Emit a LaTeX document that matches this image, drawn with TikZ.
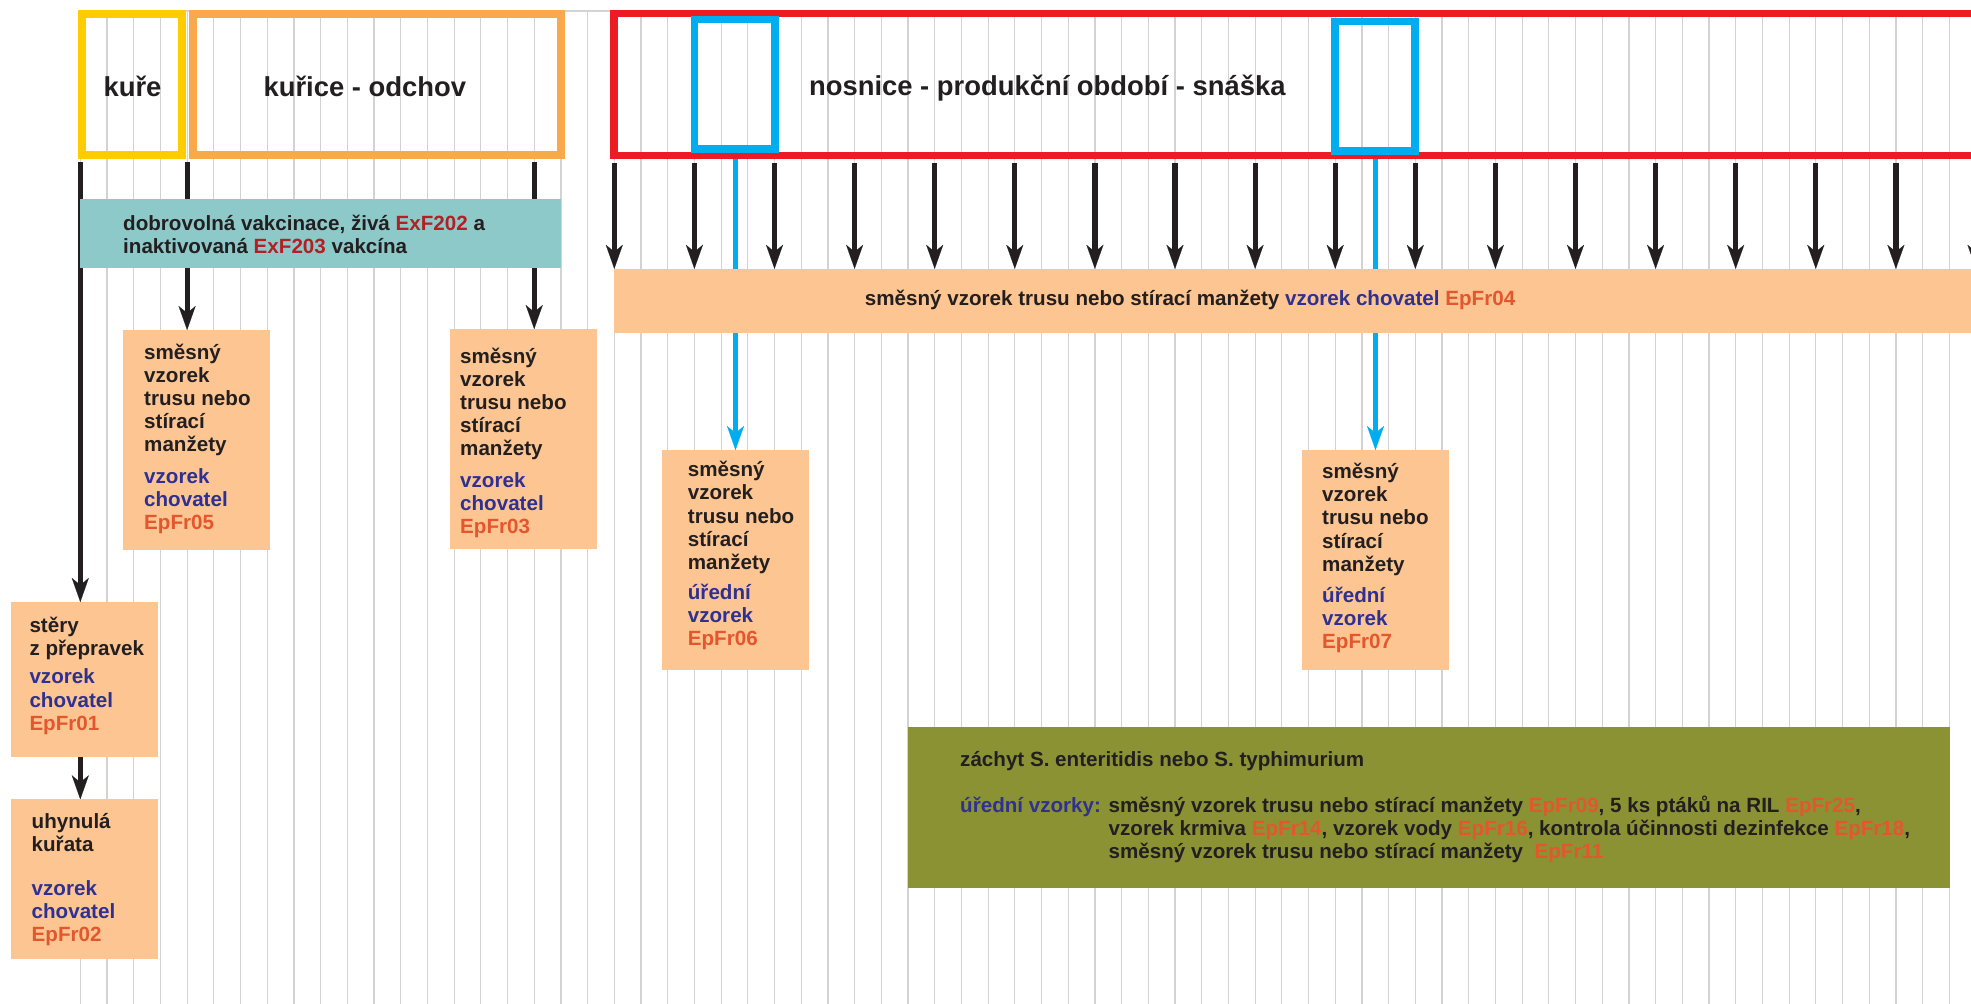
\documentclass[tikz,border=0pt]{standalone}
\usepackage{fontspec}
\setmainfont{Liberation Sans}
\usetikzlibrary{arrows.meta}
\definecolor{ink}{HTML}{231F20}
\definecolor{sedacar}{HTML}{D3D3D3}
\definecolor{zluta}{HTML}{FFCC00}
\definecolor{oranz}{HTML}{F9A94B}
\definecolor{cervena}{HTML}{ED1C24}
\definecolor{azur}{HTML}{00AEEF}
\definecolor{losos}{HTML}{FCC591}
\definecolor{tyrkys}{HTML}{8CC9C8}
\definecolor{oliva}{HTML}{8A9234}
\definecolor{modra}{HTML}{2E3192}
\definecolor{kodcol}{HTML}{E4572E}
\definecolor{exfcol}{HTML}{B22025}
\newcommand\vz[1]{\textcolor{modra}{#1}}
\newcommand\kod[1]{\textcolor{kodcol}{#1}}
\newcommand\exf[1]{\textcolor{exfcol}{#1}}
\newcommand\malepismo{\fontsize{20.6}{23.2}\selectfont\bfseries}
\newcommand\velkepismo{\fontsize{27.4}{30}\selectfont\bfseries}
\pgfdeclarelayer{mrizkavrstva}
\pgfdeclarelayer{sipkyvrstva}
\pgfsetlayers{mrizkavrstva,sipkyvrstva,main}
\tikzset{
	mrizka/.style={draw=sedacar, line width=1.2pt},
	obdobi/.style={draw, line width=7.5pt, outer sep=0pt, inner sep=0pt, anchor=north west},
	vzorek/.style={fill=losos, outer sep=0pt, inner sep=0pt, anchor=north west},
	popis/.style={text=ink, font=\malepismo, align=left, inner sep=0pt, anchor=north west},
	nadpis/.style={text=ink, font=\velkepismo, inner sep=0pt, anchor=base},
	sipka/.style={draw=ink, line width=5.2pt, -{Stealth[length=24pt, width=17pt, inset=7pt, line width=0.1pt]}},
	modrasipka/.style={draw=azur, line width=4.8pt, -{Stealth[length=24pt, width=17pt, inset=7pt, line width=0.1pt]}},
}
\begin{document}
\begin{tikzpicture}[x=1pt, y=-1pt]
	\useasboundingbox (0,0) rectangle (1971,1004);
	\begin{pgfonlayer}{mrizkavrstva}
		\fill[white] (0,0) rectangle (1971,1004);
		\draw[mrizka] (80.3,11) -- (1971,11);
		\foreach \k in {0,...,70}
			\draw[mrizka] ({80.3+26.7*\k},11) -- ({80.3+26.7*\k},1004);
	\end{pgfonlayer}
	% obdobi
	\node[obdobi, draw=zluta, minimum width=100pt, minimum height=141pt] (kure) at (82,14) {};
	\node[obdobi, draw=oranz, minimum width=368pt, minimum height=141pt] (kurice) at (193,14) {};
	\node[obdobi, draw=cervena, minimum width=1386pt, minimum height=141.8pt] (nosnice) at (614,13.7) {};
	\node[obdobi, draw=azur, line width=7.6pt, minimum width=80.4pt, minimum height=129.5pt] (okno1) at (694.4,19.5) {};
	\node[obdobi, draw=azur, line width=7.6pt, minimum width=79.7pt, minimum height=129.5pt] (okno2) at (1335,21.3) {};
	\node[nadpis] (tkure) at (132.5,96) {kuře};
	\node[nadpis] (tkurice) at (364.8,96) {kuřice - odchov};
	\node[nadpis] (tnosnice) at (1047.3,95.5) {nosnice - produkční období - snáška};
	% vakcinace a pas
	\node[vzorek, fill=tyrkys, minimum width=480.7pt, minimum height=69.3pt] (vakc) at (80,199) {};
	\node[popis] (tvakc) at (123,213.8) {\strut dobrovolná vakcinace, živá \exf{ExF202} a\\inaktivovaná \exf{ExF203} vakcína};
	\node[vzorek, minimum width=1400pt, minimum height=64.3pt] (pas) at (614.3,268.8) {};
	\node[popis, anchor=base west] (tpas) at (864.7,305) {směsný vzorek trusu nebo stírací manžety \vz{vzorek chovatel} \kod{EpFr04}};
	% vzorky
	\node[vzorek, minimum width=147pt, minimum height=219.7pt] (c05) at (123,330) {};
	\node[popis] (t05) at ([shift={(21,12.6)}]c05.north west) {\strut směsný\\vzorek\\trusu nebo\\stírací\\manžety\\[8.4pt]\vz{vzorek}\\\vz{chovatel}\\\kod{EpFr05}};
	\node[vzorek, minimum width=146.7pt, minimum height=219.7pt] (c03) at (450,329) {};
	\node[popis] (t03) at ([shift={(10,17.6)}]c03.north west) {\strut směsný\\vzorek\\trusu nebo\\stírací\\manžety\\[8.5pt]\vz{vzorek}\\\vz{chovatel}\\\kod{EpFr03}};
	\node[vzorek, minimum width=147pt, minimum height=220pt] (c06) at (662,450) {};
	\node[popis] (t06) at ([shift={(25.7,10.3)}]c06.north west) {\strut směsný\\vzorek\\trusu nebo\\stírací\\manžety\\[6.8pt]\vz{úřední}\\\vz{vzorek}\\\kod{EpFr06}};
	\node[vzorek, minimum width=147pt, minimum height=220pt] (c07) at (1302,450) {};
	\node[popis] (t07) at ([shift={(20,12)}]c07.north west) {\strut směsný\\vzorek\\trusu nebo\\stírací\\manžety\\[7.8pt]\vz{úřední}\\\vz{vzorek}\\\kod{EpFr07}};
	\node[vzorek, minimum width=147pt, minimum height=154.7pt] (stery) at (11,602) {};
	\node[popis] (tstery) at ([shift={(18.3,14)}]stery.north west) {\strut stěry\\z přepravek\\[5.1pt]\vz{vzorek}\\\vz{chovatel}\\\kod{EpFr01}};
	\node[vzorek, minimum width=147pt, minimum height=159.4pt] (uhyn) at (11,799.3) {};
	\node[popis] (tuhyn) at ([shift={(20.5,12.3)}]uhyn.north west) {\strut uhynulá\\kuřata\\[21pt]\vz{vzorek}\\\vz{chovatel}\\\kod{EpFr02}};
	% zachyt
	\node[vzorek, fill=oliva, minimum width=1042.5pt, minimum height=161pt] (zachyt) at (907.8,726.7) {};
	\node[popis, anchor=base west] (tzachyt) at (960,766) {záchyt S. enteritidis nebo S. typhimurium};
	\node[popis, anchor=base west] (turad) at (960,812) {\vz{úřední vzorky:}};
	\node[popis] (tseznam) at (1108.5,795.8) {\strut směsný vzorek trusu nebo stírací manžety \kod{EpFr09}, 5 ks ptáků na RIL \kod{EpFr25},\\vzorek krmiva \kod{EpFr14}, vzorek vody \kod{EpFr16}, kontrola účinnosti dezinfekce \kod{EpFr18},\\směsný vzorek trusu nebo stírací manžety\ \ \kod{EpFr11}};
	% sipky
	\begin{pgfonlayer}{sipkyvrstva}
		\coordinate (k0) at (80.3,162);
		\coordinate (k4) at (187.1,162);
		\coordinate (k17) at (534.2,162);
		\draw[sipka] (k0) -- (k0 |- stery.north);
		\draw[sipka] (k0 |- stery.south) -- (k0 |- uhyn.north);
		\draw[sipka] (k4) -- (k4 |- c05.north);
		\draw[sipka] (k17) -- (k17 |- c03.north);
		\foreach \k in {20,23,...,71}{
			\coordinate (s\k) at ({80.3+26.7*\k},163);
			\draw[sipka] (s\k) -- (s\k |- pas.north);
		}
		\draw[modrasipka] (okno1.south -| c06.north) -- (c06.north);
		\draw[modrasipka] (okno2.south -| c07.north) -- (c07.north);
	\end{pgfonlayer}
\end{tikzpicture}
\end{document}
